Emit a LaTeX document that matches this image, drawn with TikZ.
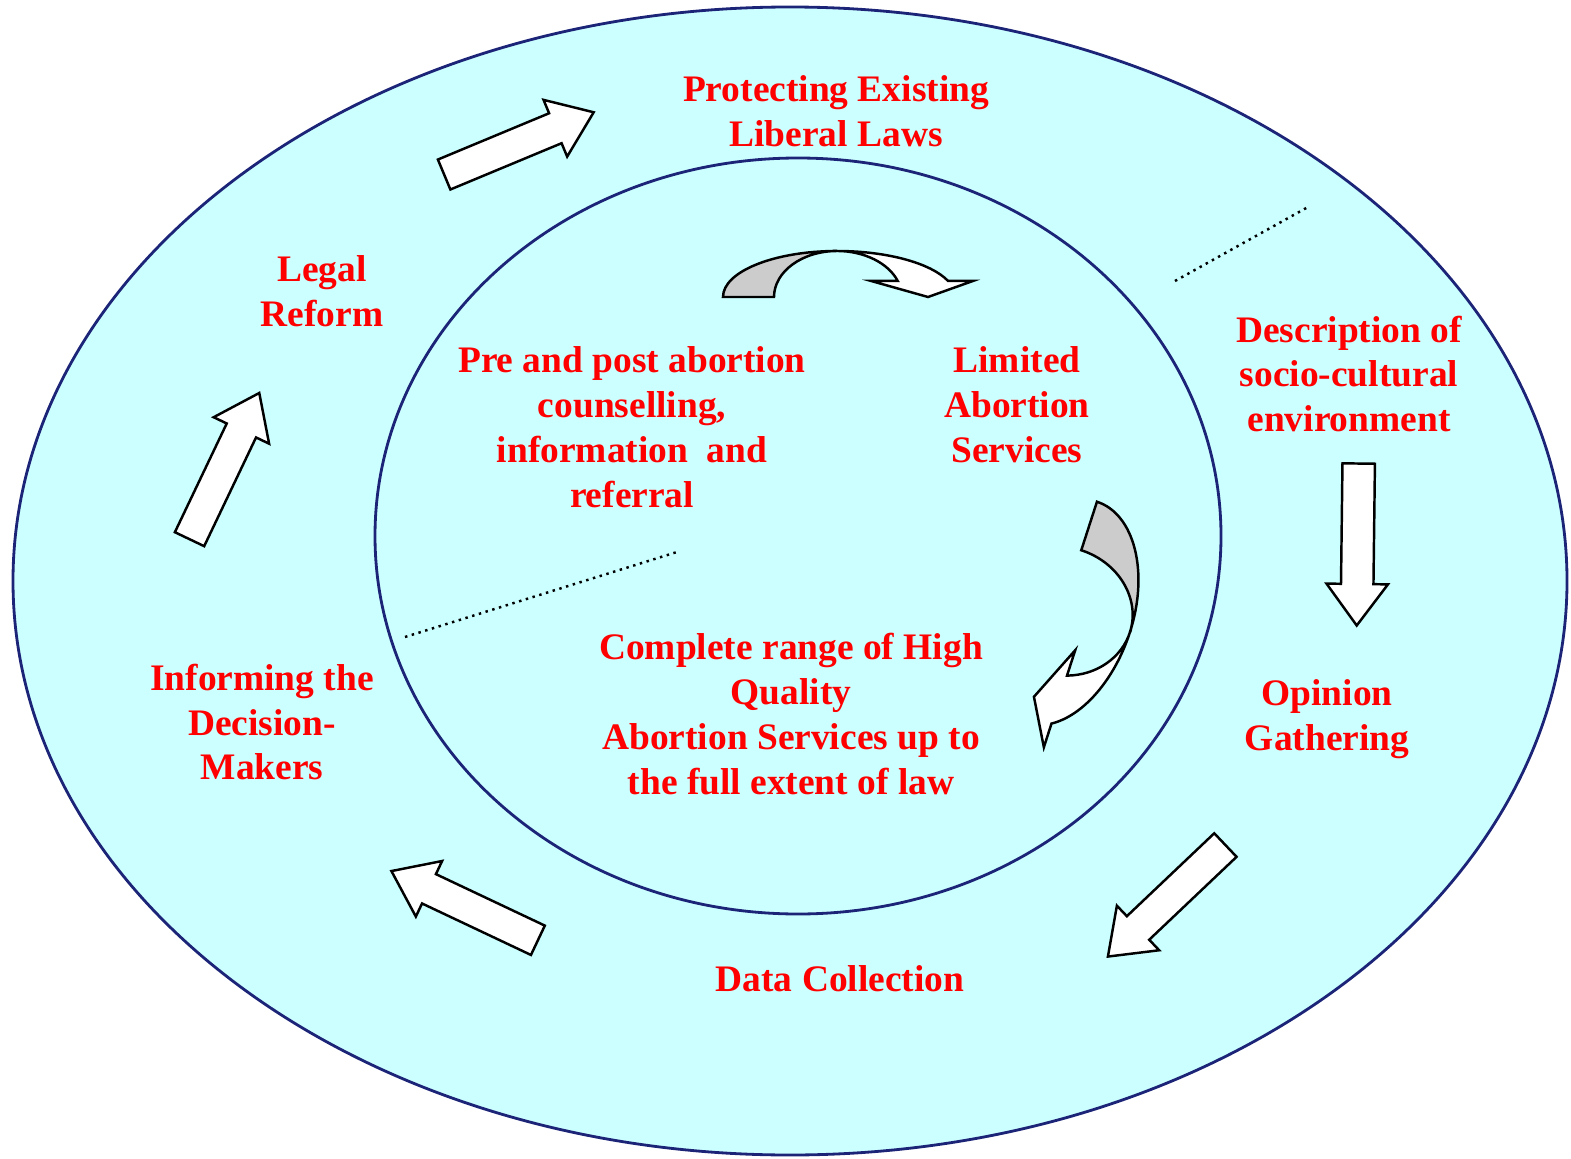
\documentclass[tikz,border=0pt]{standalone}
\usepackage{fontspec}
\setmainfont{Liberation Serif}
\usetikzlibrary{shapes.arrows}
\definecolor{paleCyan}{HTML}{CCFFFF}
\definecolor{ringBlue}{HTML}{1C2478}
\definecolor{labelRed}{HTML}{FF0000}
\tikzset{
  twistarrow/.pic={
    \draw [fill=black!20, line width=0.7pt] (-1.14,0) arc (180:90:1.14 and 1) arc (90:180:0.63 and 1) -- cycle;
    \draw [fill=white, line width=0.7pt] (0,1) arc (90:20.4:1.185 and 1) -- (1.36,0.349) -- (0.91,0) -- (0.34,0.349) -- (0.607,0.349) arc (20.4:90:0.648 and 1) -- cycle;
  }
}

\begin{document}
\begin{tikzpicture}[
  lbl/.style={text=labelRed, font=\fontsize{10.65}{12.8}\selectfont\bfseries, align=center, inner sep=0pt},
  blockarrow/.style={single arrow, draw=black, fill=white, line width=0.7pt, minimum height=1.62cm, inner xsep=0pt, inner ysep=0.15cm, single arrow head extend=0.145cm, single arrow tip angle=73, anchor=tail},
  ring/.style={draw=ringBlue, line width=0.8pt, fill=paleCyan},
  sep/.style={line width=0.7pt, black, dash pattern=on 0.7pt off 1.3pt}
]
\useasboundingbox (0,0) rectangle (15.71,-11.58);
% rings
\draw [ring] (7.90,-5.81) ellipse (7.77 and 5.74);
\draw [ring] (7.98,-5.36) ellipse (4.23 and 3.78);
% separators
\draw [sep] (11.75,-2.81) -- (13.08,-2.07);
\draw [sep] (4.05,-6.37) -- (6.77,-5.52);
% outer cycle labels
\node [lbl] (prot) at (8.36,-1.11) {Protecting Existing\\Liberal Laws};
\node [lbl] (legal) at (3.22,-2.91) {Legal\\Reform};
\node [lbl] (descr) at (13.49,-3.74) {Description of\\socio-cultural\\environment};
\node [lbl] (opinion) at (13.27,-7.19) {Opinion\\Gathering};
\node [lbl] (datacoll) at (8.40,-9.79) {Data Collection};
\node [lbl] (inform) at (2.62,-7.22) {Informing the\\Decision-\\Makers};
% inner labels
\node [lbl] (counsel) at (6.32,-4.27) {Pre and post abortion\\counselling,\\information~ and\\referral};
\node [lbl] (limited) at (10.17,-4.05) {Limited\\Abortion\\Services};
\node [lbl] (complete) at (7.91,-7.14) {Complete range of High\\Quality\\Abortion Services up to\\the full extent of law};
% block arrows
\node [blockarrow, rotate=22.6] (toprot) at (4.43,-1.75) {};
\node [blockarrow, rotate=64.5] (tolegal) at (1.89,-5.403) {};
\node [blockarrow, rotate=-90.7] (toopinion) at (13.587,-4.623) {};
\node [blockarrow, rotate=-136.5] (todata) at (12.263,-8.442) {};
\node [blockarrow, rotate=154.7] (toinform) at (5.39,-9.408) {};
% curled arrows
\pic [yscale=0.46] (topcurl) at (8.37,-2.97) {twistarrow};
\pic [rotate=-107.9, yscale=0.715] (sidecurl) at (10.619,-6.102) {twistarrow};
\end{tikzpicture}
\end{document}
